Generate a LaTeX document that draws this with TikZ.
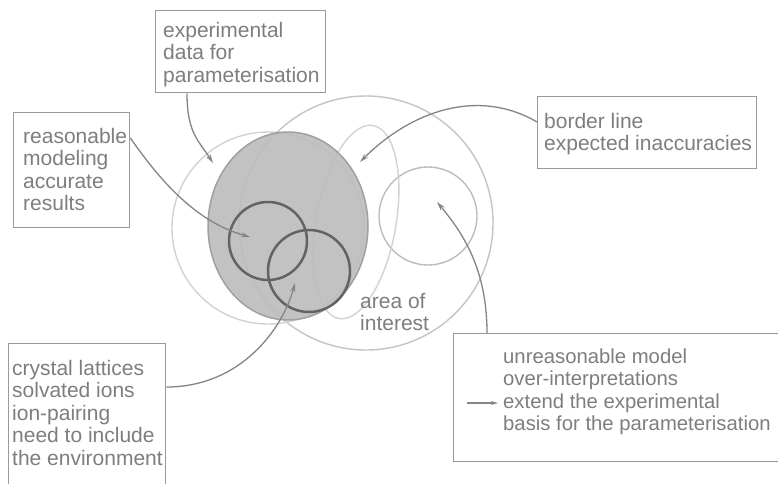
\documentclass[tikz,border=0pt]{standalone}
\usepackage{fontspec}
\setmainfont{Liberation Sans}
\usetikzlibrary{arrows.meta}
\definecolor{txtc}{HTML}{7E7E7E}
\definecolor{boxc}{HTML}{9A9A9A}
\definecolor{arrc}{HTML}{858585}
\definecolor{ellfill}{HTML}{BCBCBC}
\definecolor{ellline}{HTML}{A0A0A0}
\definecolor{darkc}{HTML}{636363}
\definecolor{lightA}{HTML}{D2D2D2}
\definecolor{lightB}{HTML}{C4C4C4}
\definecolor{lightC}{HTML}{BDBDBD}
\begin{document}
\begin{tikzpicture}[x=1pt,y=-1pt,
  boxnode/.style={draw=boxc, line width=1.3pt, anchor=north west, inner sep=0pt},
  label/.style={anchor=base west, align=left, inner sep=0pt, text=txtc,
    font=\fontsize{21}{22.5}\selectfont},
  conn/.style={draw=arrc, line width=1.3pt, -{Stealth[length=9pt,width=5pt]}},
  thin/.style={line width=1.4pt},
  thick/.style={draw=darkc, line width=2.5pt}]
\useasboundingbox (0,0) rectangle (778,483);
\clip (0,0) rectangle (778,483);
\fill[white] (0,0) rectangle (778,483);

% light circles
\draw[thin, lightB] (366,223) circle [radius=127];
\draw[thin, lightA] (268,228) circle [radius=96];
\draw[thin, lightC] (428,216) circle [radius=49];
\draw[thin, lightA, rotate around={-10:(356,222)}] (356,222) ellipse [x radius=40, y radius=98];

% gray ellipse
\fill[ellfill, fill opacity=0.9] (288,226) ellipse [x radius=80, y radius=94];
\draw[ellline, line width=1.5pt] (288,226) ellipse [x radius=80, y radius=94];

% dark circles
\draw[thick] (268,241) circle [radius=39];
\draw[thick] (309,271) circle [radius=41];

% boxes
\node[boxnode, minimum width=170pt, minimum height=82pt] (expbox) at (155,10) {};
\node[boxnode, minimum width=116pt, minimum height=115pt] (reabox) at (13,112) {};
\node[boxnode, minimum width=219pt, minimum height=72pt] (borbox) at (537,96) {};
\node[boxnode, minimum width=157pt, minimum height=170pt] (crybox) at (8,343) {};
\node[boxnode, minimum width=340pt, minimum height=128pt] (unrbox) at (453,333) {};

% texts (anchored at the baseline of the last line)
\node[label] (exptxt) at (163,82) {experimental\\data for\\parameterisation};
\node[label] (reatxt) at (23,210.5) {reasonable\\modeling\\accurate\\results};
\node[label] (bortxt) at (544,150.5) {border line\\expected inaccuracies};
\node[label] (crytxt) at (12,465) {crystal lattices\\solvated ions\\ion-pairing\\need to include\\the environment};
\node[label, font=\fontsize{20.3}{22.5}\selectfont] (unrtxt) at (503,430.5) {unreasonable model\\over-interpretations\\extend the experimental\\basis for the parameterisation};
\node[label] (areatxt) at (360,330.5) {area of\\interest};

% arrow targets
\coordinate (t1) at (213,163);
\coordinate (t2) at (250,237);
\coordinate (t3) at (360,162);
\coordinate (t4) at (437,202);
\coordinate (t5) at (295,283);

% connectors
\draw[conn] ([xshift=32pt]expbox.south west) .. controls +(0,40) and +(-14,-22) .. (t1);
\draw[conn] ([yshift=-26pt]reabox.north east) .. controls +(35,50) and +(-50,-14) .. (t2);
\draw[conn] ([yshift=-26pt]borbox.north west) .. controls +(-60,-35) and +(50,-50) .. (t3);
\draw[conn] ([xshift=34pt]unrbox.north west) .. controls +(0,-65) and +(25,30) .. (t4);
\draw[conn] ([yshift=-44pt]crybox.north east) .. controls +(75,0) and +(-12,45) .. (t5);
\coordinate (sa) at ([xshift=-36pt,yshift=27.5pt]unrtxt.base west);
\coordinate (sb) at ([xshift=-5pt,yshift=27.5pt]unrtxt.base west);
\draw[conn, -{Stealth[length=7pt,width=4pt]}] (sa) -- (sb);
\end{tikzpicture}
\end{document}
